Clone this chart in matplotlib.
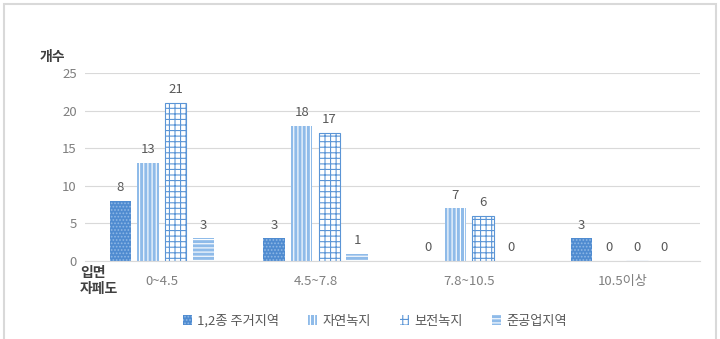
import matplotlib
matplotlib.use("Agg")
import matplotlib.pyplot as plt
import numpy as np
from matplotlib.patches import Rectangle

plt.rcParams['font.family'] = ['Noto Sans CJK KR', 'DejaVu Sans']
plt.rcParams['hatch.linewidth'] = 0.8

categories = ['0~4.5', '4.5~7.8', '7.8~10.5', '10.5이상']
series_names = ['1,2종 주거지역', '자연녹지', '보전녹지', '준공업지역']
values = [
    [8, 3, 0, 3],
    [13, 18, 7, 0],
    [21, 17, 6, 0],
    [3, 1, 0, 0],
]
y_ticks = [0, 5, 10, 15, 20, 25]

faces = ['#4f8bd0', '#8fbbe9', 'white', '#8fbbe9']
hatch_colors = ['#8fb8e6', 'white', '#5b95d6', 'white']
hatches = ['.....', '||||', '+++', '----']

fig = plt.figure(figsize=(7.2, 3.39), dpi=100)
ax = fig.add_axes([0.118, 0.230, 0.854, 0.555])

x = np.arange(len(categories))
width = 0.14
step = 0.18
for i, (name, vals) in enumerate(zip(series_names, values)):
    pos = x + (i - 1.5) * step
    ax.bar(pos, vals, width, color=faces[i], edgecolor=hatch_colors[i],
           hatch=hatches[i], linewidth=0, label=name, zorder=2)
    if i == 2:
        ax.bar(pos, vals, width, facecolor='none', edgecolor='#5b95d6',
               linewidth=0.8, zorder=3)
    for px, v in zip(pos, vals):
        ax.text(px, v + 0.9, str(v), ha='center', va='bottom', fontsize=9.5,
                color='#595959')

ax.set_xlim(-0.5, 3.5)
ax.set_ylim(0, 25)
ax.set_yticks(y_ticks)
ax.set_yticklabels([str(t) for t in y_ticks], fontsize=9.5, color='#7f7f7f')
ax.set_xticks(x)
ax.set_xticklabels(categories, fontsize=9.5, color='#7f7f7f')
ax.tick_params(length=0, pad=6)
ax.tick_params(axis='x', pad=10)
ax.yaxis.grid(True, color='#d9d9d9', linewidth=0.8, zorder=0)
ax.set_axisbelow(True)
for s in ['top', 'right', 'left']:
    ax.spines[s].set_visible(False)
ax.spines['bottom'].set_color('#d9d9d9')

fig.text(40 / 720, 1 - 57 / 339, '개수', fontsize=10, fontweight='bold',
         color='#404040', ha='left', va='center')
fig.text(80 / 720, 1 - 281 / 339, '입면\n자페도', fontsize=10, fontweight='bold',
         color='#404040', ha='left', va='center', linespacing=1.1)

leg = fig.legend(loc='center', bbox_to_anchor=(375 / 720, 1 - 321 / 339), ncol=4,
                 frameon=False, fontsize=9.5, handlelength=0.7, handleheight=0.7,
                 handletextpad=0.4, columnspacing=2.2)
for t in leg.get_texts():
    t.set_color('#595959')

fig.patches.append(Rectangle((4 / 720, -0.05), 712 / 720, 1.05 - 4 / 339,
                             transform=fig.transFigure, fill=False,
                             edgecolor='#d9d9d9', linewidth=1.5))

fig.savefig('out.png', dpi=100)
